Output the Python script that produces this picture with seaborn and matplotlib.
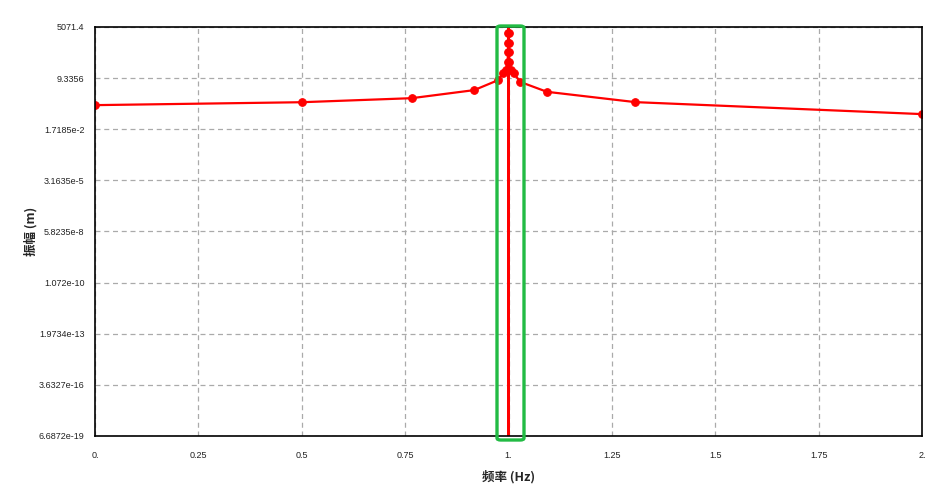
import numpy as np
import pandas as pd
import matplotlib
matplotlib.use('Agg')
import matplotlib.pyplot as plt
import seaborn as sns
from matplotlib.patches import FancyBboxPatch

# 频率响应数据
freq = [0.0, 0.5, 0.766, 0.917, 0.975, 0.987, 0.9933, 0.9976, 0.99926, 0.99975, 0.99993,
        1.0, 1.0,
        1.00007, 1.00025, 1.00074, 1.0024, 1.0067, 1.013, 1.028, 1.093, 1.307, 2.0]
amp = [0.335, 0.48, 0.79, 2.13, 7.3, 17.5, 25.0, 70.0, 225.0, 680.0, 2330.0,
       5071.4, 6.6872e-19,
       2330.0, 680.0, 225.0, 70.0, 25.0, 17.5, 5.9, 1.73, 0.485, 0.111]

y_min, y_max = 6.6872e-19, 5071.4
y_tick_labels = ['6.6872e-19', '3.6327e-16', '1.9734e-13', '1.072e-10', '5.8235e-8',
                 '3.1635e-5', '1.7185e-2', '9.3356', '5071.4']
x_ticks = [0, 0.25, 0.5, 0.75, 1.0, 1.25, 1.5, 1.75, 2.0]
x_tick_labels = ['0.', '0.25', '0.5', '0.75', '1.', '1.25', '1.5', '1.75', '2.']

df = pd.DataFrame({'freq': freq, 'amp': amp})

sns.set_style('white')
plt.rcParams['font.family'] = ['Liberation Sans', 'Noto Sans CJK SC', 'DejaVu Sans']

fig = plt.figure(figsize=(9.4, 5.03), dpi=100)
ax = fig.add_axes([95 / 940, 67 / 503, 827 / 940, 409 / 503])

# 极值点 (轴边界处) 不画标记
shown = [i for i, a in enumerate(amp) if a not in (y_min, y_max)]
sns.lineplot(data=df, x='freq', y='amp', sort=False, estimator=None, ax=ax,
             color='#ff0000', linewidth=1.6, marker='o', markersize=5.5,
             markeredgecolor='#ff0000', markerfacecolor='#ff0000', markevery=shown)

ax.set_yscale('log')
ax.set_ylim(y_min, y_max)
ax.set_xlim(0, 2)
ax.set_yticks(np.geomspace(y_min, y_max, len(y_tick_labels)))
ax.set_yticklabels(y_tick_labels)
ax.yaxis.set_minor_locator(matplotlib.ticker.NullLocator())
ax.set_xticks(x_ticks)
ax.set_xticklabels(x_tick_labels)

ax.grid(True, linestyle=(0, (4, 3)), color='#aaaaaa', linewidth=0.9)
ax.tick_params(axis='both', which='major', length=4, width=0.8, color='#aaaaaa',
               labelsize=6.5, labelcolor='#222222', direction='out')
ax.tick_params(axis='x', pad=7)
for s in ax.spines.values():
    s.set_color('black')
    s.set_linewidth(1.2)

cjk = ['Noto Sans CJK SC', 'DejaVu Sans']
ax.set_xlabel('频率 (Hz)', fontsize=9, fontweight='bold', family=cjk, labelpad=7)
ax.set_ylabel('振幅 (m)', fontsize=9, fontweight='bold', family=cjk)
ax.yaxis.set_label_coords(-0.069, 0.5)

# 共振区域标注框
box = FancyBboxPatch((497 / 940, (503 - 440) / 503), 27 / 940, 414 / 503,
                     boxstyle='round,pad=0,rounding_size=0.004',
                     transform=fig.transFigure, fill=False,
                     edgecolor='#22bb44', linewidth=2.4, zorder=10)
fig.patches.append(box)

fig.savefig('out.png', dpi=100)
